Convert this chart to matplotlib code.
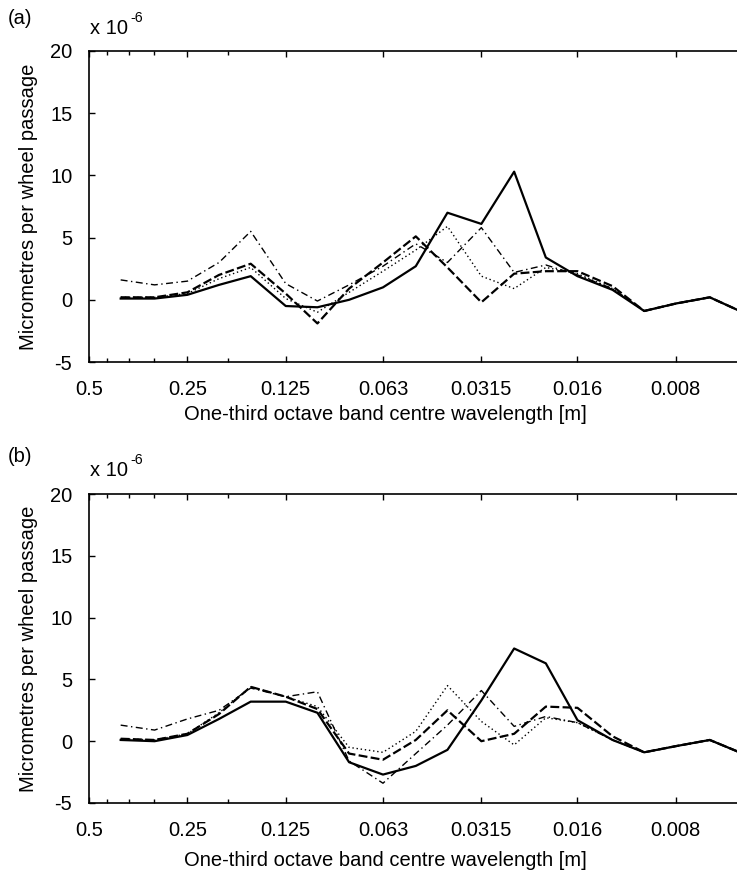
import matplotlib
matplotlib.use("Agg")
import matplotlib.pyplot as plt
from matplotlib.ticker import FixedLocator, NullFormatter

plt.rcParams['font.family'] = ['Liberation Sans', 'DejaVu Sans']

# One-third octave band centre wavelengths [m]
wavelength = [0.4, 0.315, 0.25, 0.2, 0.16, 0.125, 0.1, 0.08, 0.063, 0.05,
              0.04, 0.0315, 0.025, 0.02, 0.016, 0.0125, 0.01, 0.008, 0.0063, 0.005]

# Panel (a) values (x 1e-6 micrometres per wheel passage)
a_solid   = [0.1, 0.1, 0.4, 1.2, 1.9, -0.5, -0.6, 0.0, 1.0, 2.7, 7.0, 6.1, 10.3, 3.4, 1.9, 0.8, -0.9, -0.3, 0.2, -1.0]
a_dashed  = [0.2, 0.2, 0.6, 2.0, 2.9, 0.5, -1.9, 0.9, 3.0, 5.1, 2.6, -0.2, 2.1, 2.3, 2.3, 1.1, -0.9, -0.3, 0.2, -1.0]
a_dotted  = [0.2, 0.2, 0.5, 1.7, 2.6, 0.1, -1.0, 0.6, 2.3, 4.0, 5.9, 1.9, 0.9, 2.6, 2.1, 0.9, -0.9, -0.3, 0.2, -1.0]
a_dashdot = [1.6, 1.2, 1.5, 3.0, 5.5, 1.3, -0.1, 1.2, 2.7, 4.5, 3.0, 5.8, 2.2, 2.8, 2.0, 0.9, -0.9, -0.3, 0.2, -1.0]

# Panel (b) values
b_solid   = [0.1, 0.0, 0.5, 1.8, 3.2, 3.2, 2.3, -1.7, -2.7, -2.0, -0.7, 3.3, 7.5, 6.3, 1.7, 0.1, -0.9, -0.4, 0.1, -1.0]
b_dashed  = [0.2, 0.1, 0.6, 2.2, 4.4, 3.6, 2.6, -1.0, -1.5, 0.1, 2.5, 0.0, 0.6, 2.8, 2.7, 0.4, -0.9, -0.4, 0.1, -1.0]
b_dotted  = [0.2, 0.1, 0.6, 2.3, 4.4, 3.6, 2.8, -0.5, -0.9, 0.8, 4.5, 1.6, -0.3, 1.9, 1.5, 0.1, -0.9, -0.4, 0.1, -1.0]
b_dashdot = [1.3, 0.9, 1.8, 2.5, 4.3, 3.6, 4.0, -1.6, -3.4, -1.0, 1.3, 4.1, 1.2, 2.0, 1.5, 0.1, -0.9, -0.4, 0.1, -1.0]

xtick_vals = [0.5, 0.25, 0.125, 0.063, 0.0315, 0.016, 0.008]
xtick_labels = ['0.5', '0.25', '0.125', '0.063', '0.0315', '0.016', '0.008']
xminor_vals = [0.44, 0.377, 0.316, 0.188]
ytick_vals = [-5, 0, 5, 10, 15, 20]

W, H = 737, 877
fig = plt.figure(figsize=(W / 100, H / 100), dpi=100)

FS = 14.5

def make_axes(top_px, bot_px, series, tag, tag_y, exp_y, xlabel_y):
    ax = fig.add_axes([89 / W, 1 - bot_px / H, (W - 89) / W, (bot_px - top_px) / H])
    sol, das, dot, dd = series
    ax.plot(wavelength, sol, color='black', lw=1.6, linestyle='-')
    ax.plot(wavelength, das, color='black', lw=1.6, linestyle=(0, (4, 1.5)))
    ax.plot(wavelength, dot, color='black', lw=1.0, linestyle=(0, (1, 2)))
    ax.plot(wavelength, dd, color='black', lw=1.0, linestyle=(0, (5, 2.5, 1, 2.5)))
    ax.set_xscale('log')
    ax.set_xlim(0.5, 0.0052)
    ax.set_ylim(-5, 20)
    ax.xaxis.set_major_locator(FixedLocator(xtick_vals))
    ax.set_xticklabels(xtick_labels)
    ax.xaxis.set_minor_locator(FixedLocator(xminor_vals))
    ax.xaxis.set_minor_formatter(NullFormatter())
    ax.set_yticks(ytick_vals)
    ax.set_yticklabels([str(v) for v in ytick_vals])
    ax.tick_params(axis='both', which='both', direction='in', top=True, right=False,
                   labelsize=FS, width=1.0)
    ax.tick_params(axis='x', which='major', pad=13)
    ax.tick_params(axis='y', which='major', pad=12)
    ax.tick_params(axis='both', which='major', length=4)
    ax.tick_params(axis='x', which='minor', length=3)
    ax.spines['right'].set_visible(False)
    for s in ['left', 'top', 'bottom']:
        ax.spines[s].set_linewidth(1.2)
    ax.set_ylabel('Micrometres per wheel passage', fontsize=FS, labelpad=9)
    fig.text(385 / W, 1 - xlabel_y / H, 'One-third octave band centre wavelength [m]',
             fontsize=FS, ha='center', va='center')
    fig.text(8 / W, 1 - tag_y / H, tag, fontsize=FS, ha='left', va='center')
    fig.text(90 / W, 1 - exp_y / H, 'x 10', fontsize=FS, ha='left', va='center')
    fig.text(130 / W, 1 - (exp_y - 11) / H, '-6', fontsize=FS * 0.7, ha='left', va='center')
    return ax

make_axes(51, 362, (a_solid, a_dashed, a_dotted, a_dashdot), '(a)', 18, 29, 414)
make_axes(494, 803, (b_solid, b_dashed, b_dotted, b_dashdot), '(b)', 456, 471, 860)

fig.savefig('out.png', dpi=100)
